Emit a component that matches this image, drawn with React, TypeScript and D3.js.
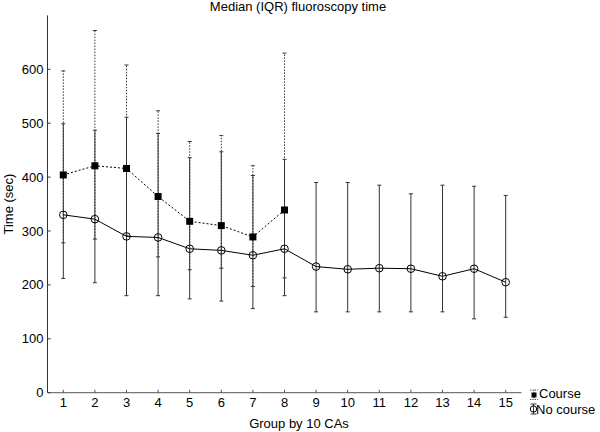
import React from "react";
import * as d3 from "d3";

const groups = [1, 2, 3, 4, 5, 6, 7, 8, 9, 10, 11, 12, 13, 14, 15];
const noCourseMedian = [330, 322, 290, 288, 267, 264, 255, 267, 234, 229, 231, 230, 216, 230, 205];
const noCourseQ1 = [212, 204, 180, 180, 174, 170, 156, 180, 150, 150, 150, 150, 150, 137, 140];
const noCourseQ3 = [499, 487, 511, 481, 436, 447, 403, 433, 390, 390, 385, 369, 385, 383, 366];
const courseGroups = [1, 2, 3, 4, 5, 6, 7, 8];
const courseMedian = [404, 421, 416, 364, 318, 310, 289, 339];
const courseQ1 = [278, 285, 292, 252, 228, 231, 197, 213];
const courseQ3 = [597, 672, 608, 523, 466, 477, 421, 630];
const yTicks = [0, 100, 200, 300, 400, 500, 600];

const FONT = "'Liberation Sans', Arial, sans-serif";

export default function App() {
  const W = 600, H = 432;
  const x = d3.scaleLinear().domain([0.5, 15.5]).range([47.5, 521.5]);
  const y = d3.scaleLinear().domain([0, 700]).range([392.7, 15.4]);
  const line = d3.line<[number, number]>().x(d => x(d[0])).y(d => y(d[1]));
  const courseData = courseGroups.map((g, i) => [g, courseMedian[i]] as [number, number]);
  const noData = groups.map((g, i) => [g, noCourseMedian[i]] as [number, number]);
  const cap = 2;
  const barColor = "#333";

  return (
    <svg width={W} height={H} style={{ position: "absolute", left: 0, top: 0, background: "#fff" }}
      fontFamily={FONT}>
      <rect x={0} y={0} width={W} height={H} fill="#fff" />
      <text x={298} y={11} fontSize={13} textAnchor="middle">Median (IQR) fluoroscopy time</text>

      {/* axes */}
      <line x1={x(0.5)} x2={x(0.5)} y1={y(0)} y2={y(700)} stroke="#333" strokeWidth={1} />
      <line x1={x(0.5)} x2={x(15.5)} y1={y(0)} y2={y(0)} stroke="#777" strokeWidth={1.2} />
      {yTicks.map(t => (
        <g key={"y" + t}>
          <line x1={x(0.5)} x2={x(0.5) + 3} y1={y(t)} y2={y(t)} stroke="#333" />
          <text x={43.5} y={y(t)} dy="0.35em" fontSize={13} textAnchor="end">{t}</text>
        </g>
      ))}
      {groups.map(g => (
        <g key={"x" + g}>
          <line x1={x(g)} x2={x(g)} y1={y(0)} y2={y(0) - 3} stroke="#555" />
          <text x={x(g)} y={407} fontSize={13} textAnchor="middle">{g}</text>
        </g>
      ))}
      <text x={299} y={428} fontSize={13} textAnchor="middle">Group by 10 CAs</text>
      <text transform={`translate(13,${(y(0) + y(700)) / 2}) rotate(-90)`} fontSize={13} textAnchor="middle">Time (sec)</text>

      {/* course error bars (dotted) */}
      {courseGroups.map((g, i) => (
        <g key={"ce" + g} stroke={barColor} strokeWidth={1}>
          <line x1={x(g)} x2={x(g)} y1={y(courseQ1[i])} y2={y(courseQ3[i])} strokeDasharray="1.5,1.5" />
          <line x1={x(g) - cap} x2={x(g) + cap} y1={y(courseQ1[i])} y2={y(courseQ1[i])} />
          <line x1={x(g) - cap} x2={x(g) + cap} y1={y(courseQ3[i])} y2={y(courseQ3[i])} />
        </g>
      ))}
      {/* no course error bars */}
      {groups.map((g, i) => (
        <g key={"ne" + g} stroke={barColor} strokeWidth={1}>
          <line x1={x(g)} x2={x(g)} y1={y(noCourseQ1[i])} y2={y(noCourseQ3[i])} />
          <line x1={x(g) - cap} x2={x(g) + cap} y1={y(noCourseQ1[i])} y2={y(noCourseQ1[i])} />
          <line x1={x(g) - cap} x2={x(g) + cap} y1={y(noCourseQ3[i])} y2={y(noCourseQ3[i])} />
        </g>
      ))}

      {/* lines */}
      <path d={line(courseData) || ""} fill="none" stroke="#000" strokeWidth={1} strokeDasharray="2,2" />
      <path d={line(noData) || ""} fill="none" stroke="#000" strokeWidth={1} />

      {courseData.map(d => (
        <rect key={"cs" + d[0]} x={x(d[0]) - 3.5} y={y(d[1]) - 3.5} width={7} height={7} fill="#000" />
      ))}
      {noData.map(d => (
        <circle key={"nc" + d[0]} cx={x(d[0])} cy={y(d[1])} r={3.8} fill="none" stroke="#000" strokeWidth={1} />
      ))}

      {/* legend */}
      <g stroke="#444" strokeWidth={1}>
        <line x1={530} x2={538} y1={390} y2={390} strokeDasharray="1.2,1.2" />
        <line x1={530} x2={538} y1={399.5} y2={399.5} strokeDasharray="1.2,1.2" />
        <line x1={534} x2={534} y1={390} y2={399.5} strokeDasharray="1.2,1.2" />
      </g>
      <rect x={531.5} y={392.5} width={5} height={5} fill="#000" />
      <text x={539} y={398} fontSize={13}>Course</text>
      <g stroke="#333" strokeWidth={1}>
        <line x1={530.5} x2={536.5} y1={404} y2={404} />
        <line x1={530.5} x2={536.5} y1={414} y2={414} />
        <line x1={533.5} x2={533.5} y1={404} y2={414} />
      </g>
      <circle cx={533.5} cy={409} r={3.2} fill="none" stroke="#000" />
      <text x={536} y={414} fontSize={13}>No course</text>
    </svg>
  );
}
